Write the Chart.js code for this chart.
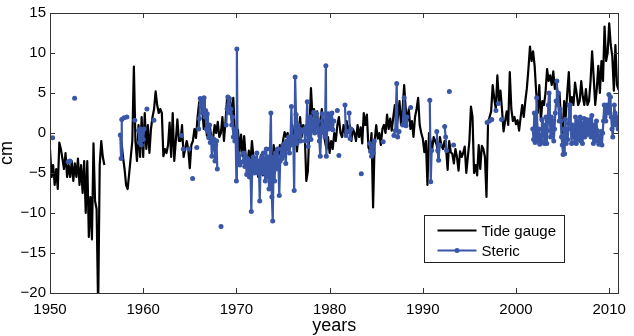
<!DOCTYPE html>
<html>
<head>
<meta charset="utf-8">
<script src="https://cdn.jsdelivr.net/npm/chart.js@4"></script>
<style>
  body { margin: 0; background: #fff; }
  #chartCanvas { display: block; }
</style>
</head>
<body>
<canvas id="chartCanvas" width="634" height="336"></canvas>
<script>
// axis ticks
const xTicks = [1950, 1960, 1970, 1980, 1990, 2000, 2010];
const yTicks = [-20, -15, -10, -5, 0, 5, 10, 15];

// Tide gauge, one value every 2 months from 1950.0 (null = no data)
const tideStart = 1950;
const tideStep = 1 / 6;
const tideGauge = [
    -2, -5.5, -4, -6.5, -4.5, -7,          // 1950
    -1.2, -2, -3.2, -4.5, -2.5, -5.5,      // 1951
    -4, -5.5, -3.5, -6, -3.8, -5.5,        // 1952
    -3.2, -6.5, -4, -7.5, -3.5, -10,       // 1953
    -3.5, -13, -8, -13.3, -1.3, -8.5,      // 1954
    -9.5, -22, -4, -1, -3, -4,             // 1955
    null, null, null, null, null, null,    // 1956
    null, null, null, null, -1, -3,        // 1957
    -4.5, -6.5, -7, -5, -3, -1,            // 1958
    8.3, -1, -3.5, 1, -3, 2,               // 1959
    -3, 2.5, -2, 1, -2.5, 0.5,             // 1960
    2, 3, 5.2, 3.5, 2.5, 3,                // 1961
    2.5, -2.9, -2, -2.5, -1.5, 1.3,        // 1962
    -3, 2.5, -3.5, -1, 1.7, -1,            // 1963
    -1, 1, -3, -2, -1, -2,                 // 1964
    -4.4, -1.5, -1, 0.5, -0.6, 2,          // 1965
    3.8, 4.3, 3, 0.5, 2, -0.3,             // 1966
    -0.5, 0.8, -1, -0.6, 1, 0,             // 1967
    1.4, -0.5, 0, 2, -1, 1.5,              // 1968
    4.4, 4.6, 4.2, 1.6, 4.4, 0,            // 1969
    -1, 0.4, -2.4, -0.2, -2.9, -0.4,       // 1970
    -3, -4, -2.2, -3.8, -1, -3,            // 1971
    -4.5, -3, -5.5, -4, -2.7, -5.3,        // 1972
    -3.5, -5.6, -4, -5, -2.5, -4.5,        // 1973
    -1.5, -3.5, -2, -3, -1.5, -3,          // 1974
    -1, 0.1, -0.5, 0, -1, -1.5,            // 1975
    1, -1, 0.5, -2.3, 0, 2,                // 1976
    -0.5, 1, 0, -6, -4.8, 0.5,             // 1977
    5.6, 2, 3, 1, 2.7, -0.5,               // 1978
    1.5, 3, 0.5, -1, -2, -0.5,             // 1979
    -2.5, -1, -2, 0, -1, 1,                // 1980
    2, 0, -0.5, 1, 0, 1.5,                 // 1981
    0, 1, -1, 0.5, 0, -1,                  // 1982
    1, -0.5, 0.7, -1.3, 2.5, 1,            // 1983
    2.3, -1.8, -2.2, 0, -9.3, -1,          // 1984
    1, -0.7, 0, -1.5, 0.5, 1,              // 1985
    0, 2.3, 0.5, 1.8, 0.3, 2,              // 1986
    3.5, 0.5, 2, 4, 1, 3,                  // 1987
    6, 3, 1.5, 3, 0.5, 1.5,                // 1988
    -0.5, 2, 3, 4.4, 1, 0,                 // 1989
    -0.7, -2.4, -1, -6.5, 0, -1,           // 1990
    -2, -0.5, -1, -1.5, -3, -0.5,          // 1991
    -1.5, -2, -1, -2, -4.6, -1,            // 1992
    -2.4, -2.6, -3.8, -2, -3, -4.7,        // 1993
    -2.3, -3, -2.5, -1.7, -5, -3,          // 1994
    -1, 3.3, 2, -5, -4, -5.3,              // 1995
    -1.5, -4.5, -1.6, -2, -3, -8,          // 1996
    1.3, 2, 2.7, 6, 4.3, 3,                // 1997
    7.2, 4, 5.3, 2.9, 0.2, 1.5,            // 1998
    2.7, 1, 7.6, 3, 1.5, 2,                // 1999
    1.1, 1.6, 0.3, 2, 3.5, 2,              // 2000
    4, 5.6, 8, 10.8, 9, 10.2,              // 2001
    8.4, 5.1, 2.5, 6, 1.5, 4,              // 2002
    3.5, 5, 8, 6.5, 7.2, 6,                // 2003
    7.7, 5.5, 6.5, 4.5, 5, 1.5,            // 2004
    0, 4, 2, 5, 7.6, 3,                    // 2005
    4.5, 3.5, 6.3, 5, 3.5, 4,              // 2006
    6.5, 4.5, 3.5, 5.5, 3.5, 4,            // 2007
    6.5, 10.2, 7, 3.5, 5.5, 8.4,           // 2008
    5, 9, 6.5, 13.3, 9, 10,                // 2009
    13.7, 11, 9.6, 5.3, 11, 6,             // 2010
    5.4                                    // 2011
];

// Steric, scattered observations before 2001 (null = break in the line)
const stericYears = [
    1950.28, null, 1951.95, null, 1952.15, null, 1952.64, null,
    1957.54, 1957.63, 1957.7, 1957.95, 1958.25, null,
    1959.1, null,
    1959.5, 1959.6, 1959.7, 1959.8, 1959.9, 1960.0, 1960.1, null,
    1960.4, null, 1961.15, null, 1964.1, null, 1964.3, null, 1964.9, null,
    1965.3, null, 1965.75, null,
    1965.95, 1966.03, 1966.12, 1966.2, 1966.28, 1966.37, 1966.45, 1966.53, 1966.62,
    1966.7, 1966.78, 1966.87, 1966.95, 1967.03, 1967.12, 1967.2, 1967.28, 1967.37,
    1967.45, 1967.53, 1967.62, 1967.7, 1967.78, 1967.87, 1967.95, null,
    1968.35, null,
    1968.9, 1969.0, 1969.08, 1969.17, 1969.25, 1969.33, 1969.42, 1969.5, 1969.58,
    1969.67, 1969.75, 1969.83, 1969.92, 1970.0, 1970.05, 1970.13, 1970.22, 1970.3,
    1970.38, null,
    1970.7, 1970.8, 1970.9, 1971.0, 1971.1, 1971.2, 1971.3, 1971.4, 1971.5, 1971.6,
    1971.7, 1971.8, 1971.9, 1972.0, 1972.1, 1972.2, 1972.3, 1972.4, 1972.5, 1972.6,
    1972.7, 1972.8, 1972.9, 1973.0, 1973.1, 1973.2, 1973.3, 1973.4, 1973.5, 1973.6,
    1973.7, 1973.8, 1973.9, 1974.0, 1974.1, 1974.2, 1974.3, 1974.4, 1974.5, 1974.6,
    1974.7, 1974.8, 1974.9, 1975.0, 1975.1, 1975.2, 1975.3, 1975.4, 1975.5, 1975.6,
    1975.7, 1975.8, 1975.9, 1976.0, 1976.1, 1976.2, 1976.3, 1976.4, 1976.5, 1976.6,
    1976.7, 1976.8, 1976.9, 1977.0, null,
    1977.3, 1977.4, 1977.5, 1977.6, 1977.7, 1977.8, 1977.9, 1978.0, 1978.1, 1978.2,
    1978.3, 1978.4, 1978.5, 1978.6, 1978.7, 1978.8, 1978.9, 1979.0, 1979.1, 1979.2,
    1979.3, 1979.4, 1979.5, 1979.6, 1979.65, 1979.75, 1979.85, 1979.95, 1980.05,
    1980.15, 1980.25, 1980.35, 1980.45, null,
    1980.83, null, 1981.0, null,
    1981.65, 1981.75, 1981.85, null,
    1982.1, 1982.2, 1982.3, null,
    1983.4, null,
    1984.3, 1984.4, 1984.5, 1984.6, 1984.7, 1984.8, null,
    1985.75, null,
    1986.9, 1987.05, 1987.2, 1987.3, 1987.45, null,
    1987.85, 1988.0, 1988.1, 1988.2, 1988.3, null,
    1988.7, null,
    1990.75, 1990.85, 1990.95, null,
    1991.5, 1991.6, 1991.7, 1991.8, null,
    1992.35, 1992.45, 1992.55, null,
    1992.85, null, 1993.3, null,
    1996.9, null, 1997.15, null, 1997.4, null, 1997.85, null, 1998.1, null, 1998.45, null
];
const stericVals = [
    -0.6, null, -3.6, null, -3.5, null, 4.35, null,
    -0.25, -3.2, 1.7, 1.9, 2.0, null,
    1.6, null,
    0.3, -1.2, 0.5, -1.5, 0.2, -0.8, 0.5, null,
    3.0, null, 1.6, null, -0.3, null, -2.0, null, -2.0, null,
    -5.7, null, -1.8, null,
    0.5, 1.8, 4.3, 3.5, 4.2, 2.5, 3.8, 4.4, 2.0,
    2.8, 0.5, 2.4, 0.2, -0.6, 1.0, -1.2, -0.5, -2.9,
    -1.2, -2.0, -0.8, -3.5, -1.5, -1.0, -4.5, null,
    -11.7, null,
    1.0, 3.0, 4.5, 3.5, 4.3, 2.5, 3.0, 1.0, 2.0,
    -0.5, 0.5, -1.0, -0.5, -6.0, 10.5, -2.5, -3.5, -2.8,
    -4.0, null,
    -3.6, -2.5, -4.2, -3.0, -5.2, -3.2, -4.5, -5.5, -3.5, -9.8,
    -4.0, -3.0, -5.0, -3.2, -4.5, -2.5, -5.0, -3.5, -8.5, -4.0,
    -3.0, -5.0, -2.5, -4.0, -6.0, -2.0, -5.5, -3.0, -7.0, -2.0,
    2.5, -8.0, -11.0, -3.0, -6.0, -2.5, -4.5, -2.0, -3.5, -7.8,
    -3.5, -2.0, -3.2, -1.5, -2.8, -1.3, -3.8, -1.0, -2.0, -0.5,
    -2.5, -1.0, 3.3, -1.5, -0.5, -7.2, 7.0, 2.3, -1.3, 1.0,
    -0.5, 0.5, -1.0, 0.2, null,
    0.5, -1.0, 0.8, 3.9, -1.7, 0.5, 2.0, -0.8, 1.5, 0.3,
    2.6, 0.0, 1.0, 2.4, 0.5, 1.5, -1.0, -2.9, 0.5, 2.4,
    0.0, 1.0, -0.5, 8.4, -2.9, 1.0, 2.4, 0.5, 2.0,
    0.8, 2.5, 0.4, 1.5, null,
    2.8, null, -2.8, null,
    3.5, -0.3, 0.2, null,
    2.5, -0.7, 0.5, null,
    -5.1, null,
    -1.3, -2.3, -2.9, -1.6, -2.5, -1.0, null,
    -1.1, null,
    -0.3, 0.3, 6.2, -0.5, 0.2, null,
    1.0, 4.4, 1.5, 0.9, 2.0, null,
    3.2, null,
    4.1, -6.1, -2.2, null,
    0.2, -2.2, -3.4, -1.5, null,
    0.8, -0.5, -2.2, null,
    5.2, null, -1.5, null,
    1.3, null, 1.5, null, 1.7, null, 2.8, null, 3.7, null, 1.7, null
];

// Steric, monthly from late 2001
const stericLateStart = 2001.8;
const stericLate = [
    0.5, -0.8, 2.5, -1.2, 1.0, 4.4, 0.2, -1.0, 0.5, -1.4, -0.3, -1.0,
    1.7, -0.4, 1.0, -1.3, 0.5, 2.0, -1.3, 0.3, 3.5, 5.0, 1.5, -0.5,
    2.0, 0.0, 1.5, -1.0, 0.5, 2.5, 4.0, 6.5, 3.5, 5.0, 1.5, 3.0,
    1.5, -0.5, -1.5, -2.7, 0.5, -2.6, 1.7, -1.3, 0.5, -0.8, 1.2, 3.5,
    3.5, 0.5, -1.3, 1.0, -0.5, 0.8, -1.2, 2.0, -1.3, 0.5, 1.5, -0.8,
    0.3, 2.0, -1.0, 1.2, -1.3, 0.5, 1.8, -0.5, 0.2, 1.7, -0.2, 0.8,
    1.5, 0.0, 1.7, -0.5, 2.2, 0.5, -1.3, 1.0, 0.2, -1.0, 1.5, 0.3,
    -0.3, -1.4, -0.8, -1.2, 0.2, -1.5, 0.0, 1.5, 3.5, 2.0, 1.5, 3.0,
    3.5, 2.5, 4.8, 3.0, 4.5, 2.0, 0.5, -0.5, 1.5, 3.5, 2.5, 1.0,
    2.0, 1.5, 0.5
];

const seriesNames = ['Tide gauge', 'Steric'];
const blue = '#3a57a7';
const fontFamily = '"Liberation Sans", Arial, Helvetica, sans-serif';

// build point lists
const tideData = tideGauge.map((v, i) => ({ x: tideStart + i * tideStep, y: v }));

let stericData = [];
let lastYear = stericYears[0];
for (let i = 0; i < stericYears.length; i++) {
    if (stericVals[i] === null) {
        stericData.push({ x: lastYear, y: null });
    } else {
        lastYear = stericYears[i];
        stericData.push({ x: stericYears[i], y: stericVals[i] });
    }
}
stericData.push({ x: lastYear, y: null });
stericLate.forEach((v, k) => {
    stericData.push({ x: stericLateStart + k / 12, y: v });
});

// box, inward ticks and legend, matlab style
const frameAndLegend = {
    id: 'frameAndLegend',
    afterDatasetsDraw(chart) {
        const ctx = chart.ctx;
        const a = chart.chartArea;
        const xs = chart.scales.x;
        const ys = chart.scales.y;
        const tl = 5;
        ctx.save();
        ctx.strokeStyle = '#333';
        ctx.lineWidth = 1;
        ctx.beginPath();
        xTicks.forEach(t => {
            const px = Math.round(xs.getPixelForValue(t)) + 0.5;
            ctx.moveTo(px, a.bottom); ctx.lineTo(px, a.bottom - tl);
            ctx.moveTo(px, a.top); ctx.lineTo(px, a.top + tl);
        });
        yTicks.forEach(t => {
            const py = Math.round(ys.getPixelForValue(t)) + 0.5;
            ctx.moveTo(a.left, py); ctx.lineTo(a.left + tl, py);
            ctx.moveTo(a.right, py); ctx.lineTo(a.right - tl, py);
        });
        ctx.stroke();
        ctx.strokeRect(Math.round(a.left) + 0.5, Math.round(a.top) + 0.5,
            Math.round(a.right - a.left) - 1, Math.round(a.bottom - a.top));

        // legend
        const bx = Math.round(a.right) - 194.5, by = Math.round(a.bottom) - 77.5;
        const bw = 140, bh = 47;
        ctx.fillStyle = '#fff';
        ctx.fillRect(bx, by, bw, bh);
        ctx.strokeStyle = '#222';
        ctx.strokeRect(bx, by, bw, bh);
        const colors = ['#000', blue];
        ctx.font = '15px ' + fontFamily;
        ctx.textBaseline = 'middle';
        seriesNames.forEach((name, i) => {
            const ly = by + 15 + i * 20;
            ctx.strokeStyle = colors[i];
            ctx.lineWidth = 2;
            ctx.beginPath();
            ctx.moveTo(bx + 13, ly); ctx.lineTo(bx + 52, ly);
            ctx.stroke();
            if (i === 1) {
                ctx.fillStyle = blue;
                ctx.beginPath();
                ctx.arc(bx + 32.5, ly, 2.5, 0, Math.PI * 2);
                ctx.fill();
            }
            ctx.fillStyle = '#000';
            ctx.fillText(name, bx + 57, ly + 1);
        });
        ctx.restore();
    }
};

const ctx = document.getElementById('chartCanvas').getContext('2d');

let chart = new Chart(ctx, {
    type: 'line',
    data: {
        datasets: [{
            label: seriesNames[1],
            data: stericData,
            borderColor: blue,
            backgroundColor: blue,
            borderWidth: 2.2,
            borderJoinStyle: 'round',
            pointRadius: 2.5,
            pointBorderWidth: 0,
            pointBackgroundColor: blue,
            fill: false,
            spanGaps: false
        }, {
            label: seriesNames[0],
            data: tideData,
            borderColor: '#000',
            borderWidth: 2.2,
            borderJoinStyle: 'round',
            pointRadius: 0,
            fill: false,
            spanGaps: false
        }]
    },
    options: {
        responsive: false,
        animation: false,
        devicePixelRatio: 1,
        layout: { padding: { top: 6, right: 7, left: 0, bottom: 0 } },
        plugins: {
            legend: { display: false },
            tooltip: { enabled: false }
        },
        scales: {
            x: {
                type: 'linear',
                min: 1950,
                max: 2011,
                afterBuildTicks: scale => { scale.ticks = xTicks.map(v => ({ value: v })); },
                afterFit: scale => { scale.height = 43; },
                grid: { display: false, drawTicks: false },
                border: { display: false },
                ticks: {
                    padding: 8,
                    maxRotation: 0,
                    color: '#000',
                    font: { family: fontFamily, size: 15 },
                    callback: v => String(v)
                },
                title: {
                    display: true,
                    text: 'years',
                    color: '#000',
                    font: { family: fontFamily, size: 18, lineHeight: 1.1 },
                    padding: 0
                }
            },
            y: {
                min: -20,
                max: 15,
                afterBuildTicks: scale => { scale.ticks = yTicks.map(v => ({ value: v })); },
                afterFit: scale => { scale.width = 50; },
                grid: { display: false, drawTicks: false },
                border: { display: false },
                ticks: {
                    padding: 4,
                    color: '#000',
                    font: { family: fontFamily, size: 15 },
                    callback: v => v < 0 ? '\u2212' + Math.abs(v) : String(v)
                },
                title: {
                    display: true,
                    text: 'cm',
                    color: '#000',
                    font: { family: fontFamily, size: 18, lineHeight: 0.8 },
                    padding: 0
                }
            }
        }
    },
    plugins: [frameAndLegend]
});
</script>
</body>
</html>
